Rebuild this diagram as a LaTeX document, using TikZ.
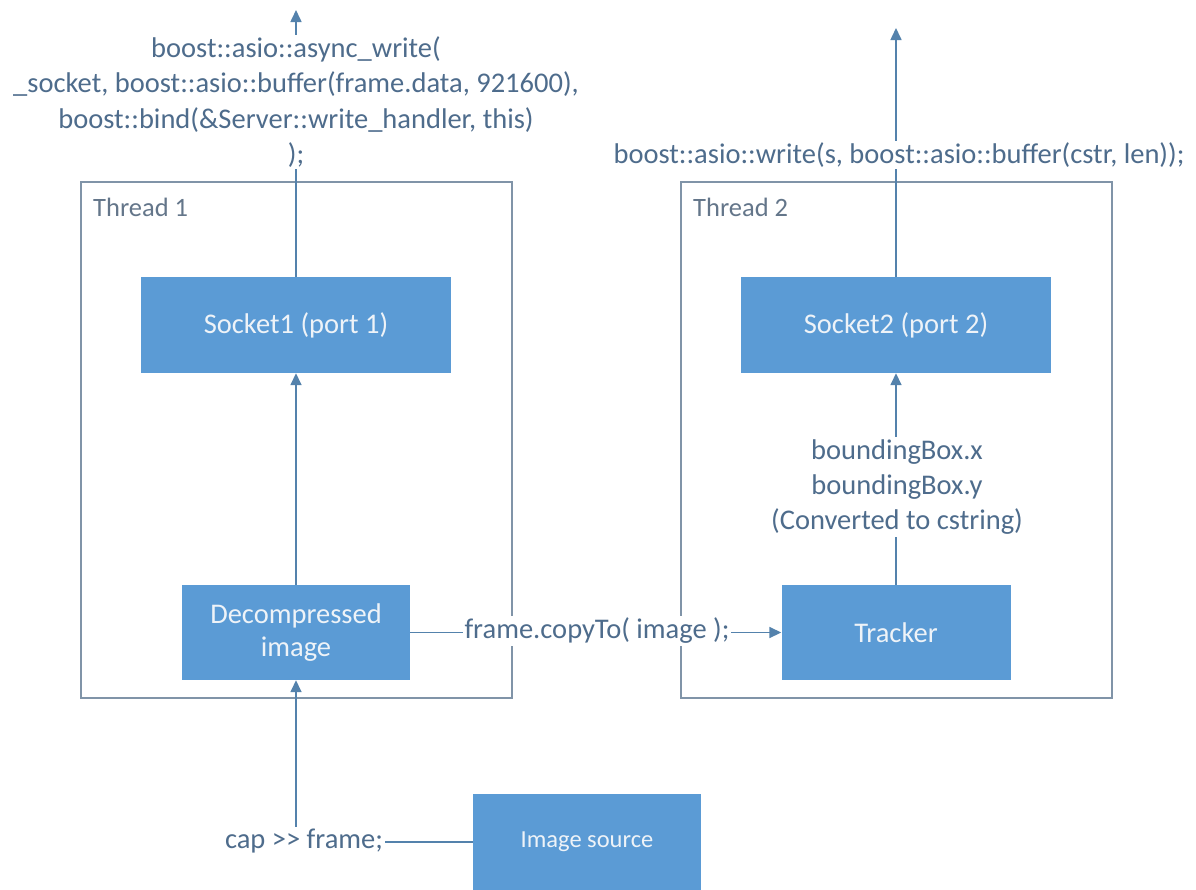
\documentclass[tikz,border=0pt]{standalone}
\usepackage{fontspec}
\setmainfont{Carlito}
\usetikzlibrary{arrows.meta}

\definecolor{boxblue}{RGB}{91,155,213}
\definecolor{wireblue}{RGB}{84,130,172}
\definecolor{framegray}{RGB}{128,148,168}
\definecolor{codetext}{RGB}{78,108,140}
\definecolor{boxtext}{RGB}{238,243,248}
\definecolor{threadtext}{RGB}{100,118,138}

\begin{document}
\begin{tikzpicture}[x=1pt,y=-1pt,
  block/.style={fill=boxblue, text=boxtext, draw=none, minimum height=96pt,
    font=\fontsize{28.5}{33}\selectfont, align=center, inner sep=0pt},
  threadbox/.style={draw=framegray, line width=1.8pt},
  wire/.style={draw=wireblue, line width=1.6pt},
  flow/.style={wire, -{Triangle[length=12pt,width=11pt]}},
  codelabel/.style={fill=white, text=codetext,
    font=\fontsize{28.5}{35.3}\selectfont, align=center, inner sep=2pt},
  threadlabel/.style={text=threadtext, font=\fontsize{26.5}{30}\selectfont,
    anchor=base west, inner sep=0pt}]

\clip (0,0) rectangle (1196,889);
\fill[white] (0,0) rectangle (1196,889);

% thread frames
\draw[threadbox] (81,182) rectangle (512,698);
\draw[threadbox] (681,182) rectangle (1112,698);
\node[threadlabel] (t1) at (93,216) {Thread 1};
\node[threadlabel] (t2) at (693,216) {Thread 2};

% processing blocks
\node[block, minimum width=310pt] (s1)  at (296,325)   {Socket1 (port 1)};
\node[block, minimum width=228pt, minimum height=95pt] (dec) at (296,632.5) {Decompressed\\image};
\node[block, minimum width=310pt] (s2)  at (896,325)   {Socket2 (port 2)};
\node[block, minimum width=229pt, minimum height=95pt] (trk) at (896,632.5) {Tracker};
\node[block, minimum width=228pt, font=\fontsize{24.5}{29}\selectfont] (src) at (587,842) {Image source};

% outgoing ends
\coordinate (out1) at (296,10);
\coordinate (out2) at (896,28);

% connectors
\draw[flow] (s1.north) -- (out1);
\draw[flow] (s2.north) -- (out2);
\draw[flow] (dec.north) -- (s1.south);
\draw[flow] (trk.north) -- (s2.south);
\draw[flow] (dec.east) -- (trk.west);
\draw[flow] (src.west) -| (dec.south);

% connector labels
\node[codelabel] (l1) at (296,102) {boost::asio::async\_write(\\\_socket, boost::asio::buffer(frame.data, 921600),\\boost::bind(\&Server::write\_handler, this)\\);};
\node[codelabel] (l2) at (899,155) {boost::asio::write(s, boost::asio::buffer(cstr, len));};
\node[codelabel] (l3) at (897,487) {boundingBox.x\\boundingBox.y\\(Converted to cstring)};
\node[codelabel] (l4) at (597,631) {frame.copyTo( image );};
\node[codelabel] (l5) at (304,841) {cap >{}> frame;};
\end{tikzpicture}
\end{document}
